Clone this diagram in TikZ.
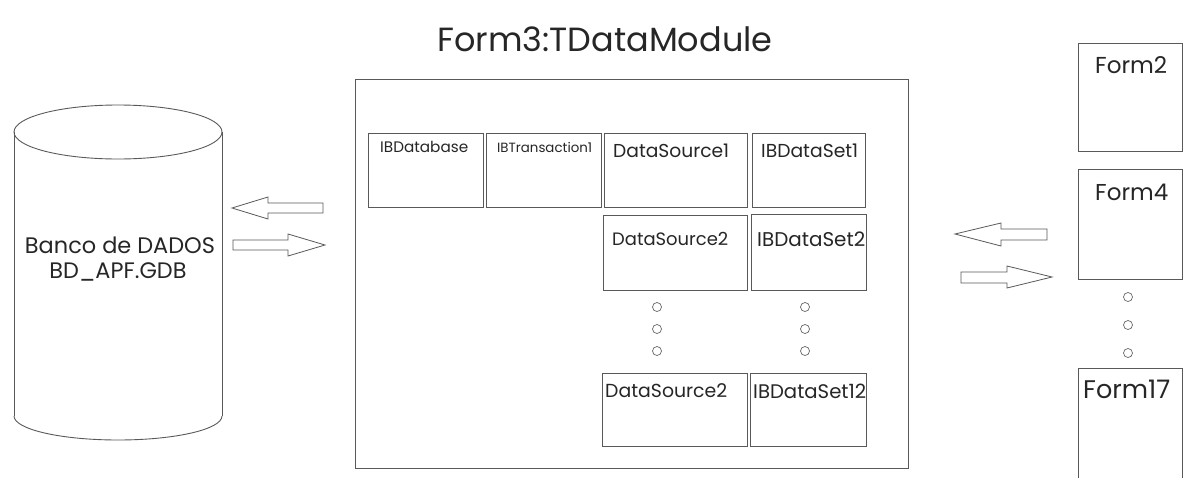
\documentclass[tikz,border=0pt]{standalone}
\usepackage{fontspec}
\setmainfont{Poppins}
\newcommand{\fitw}[2]{\resizebox{#1pt}{!}{#2}}
\begin{document}
\begin{tikzpicture}[x=1pt,y=-1pt,
  box/.style={draw=black!65, line width=1pt, inner sep=0pt, fill=white},
  lbl/.style={anchor=west, inner sep=0pt, text=black!85},
  dot/.style={draw=black!60, line width=0.7pt, circle, inner sep=0pt, minimum size=9pt},
  blk/.style={draw=black!65, line width=0.8pt, fill=white, line join=miter}]
\useasboundingbox (0,0) rectangle (1184,477);

% title
\node[inner sep=0pt, text=black!85] (title) at (605,39) {\fitw{335}{Form3:TDataModule}};

% cylinder (database)
\draw[black!65, line width=0.9pt] (14,132) -- (14,416);
\draw[black!65, line width=0.9pt] (222,132) -- (222,416);
\draw[black!65, line width=0.9pt] (118,132) ellipse [x radius=104, y radius=27];
\begin{scope}
  \clip (0,416) rectangle (240,470);
  \draw[black!65, line width=0.9pt] (118,416) ellipse [x radius=104, y radius=24];
\end{scope}
\node[inner sep=0pt, text=black!85] (db1) at (120,245) {\fitw{190}{Banco de DADOS}};
\node[inner sep=0pt, text=black!85] (db2) at (118,272) {\fitw{137}{BD\_APF.GDB}};

% left block arrows
\draw[blk] (232,208) -- (268,197) -- (268,203) -- (323,203) -- (323,213) -- (268,213) -- (268,219) -- cycle;
\draw[blk] (325,245) -- (288,234) -- (288,240) -- (233,240) -- (233,250) -- (288,250) -- (288,256) -- cycle;

% right block arrows
\draw[blk] (955,234) -- (1001,223) -- (1001,229) -- (1047,229) -- (1047,240) -- (1001,240) -- (1001,246) -- cycle;
\draw[blk] (1052,277) -- (1007,266) -- (1007,272) -- (961,272) -- (961,283) -- (1007,283) -- (1007,288) -- cycle;

% data module
\node[box, minimum width=553pt, minimum height=389pt] (mod) at (631.5,273.5) {};

\node[box, minimum width=115pt, minimum height=74pt] (db) at (425.5,170) {};
\node[box, minimum width=115pt, minimum height=74pt] (tr) at (543.5,170) {};
\node[box, minimum width=143pt, minimum height=74pt] (ds1) at (675.5,170) {};
\node[box, minimum width=113pt, minimum height=74pt] (set1) at (808.5,170) {};
\node[box, minimum width=144pt, minimum height=75pt] (ds2) at (675,252.5) {};
\node[box, minimum width=115pt, minimum height=76pt] (set2) at (808.5,252) {};
\node[box, minimum width=145pt, minimum height=73pt] (ds12) at (674.5,409.5) {};
\node[box, minimum width=116pt, minimum height=73pt] (set12) at (808,409.5) {};

\node[lbl] (ldb) at (380,147) {\fitw{88}{IBDatabase}};
\node[lbl] (ltr) at (497,147) {\fitw{95}{IBTransaction1}};
\node[lbl] (lds1) at (613,151) {\fitw{116}{DataSource1}};
\node[lbl] (lset1) at (761,151) {\fitw{97}{IBDataSet1}};
\node[lbl] (lds2) at (612,239) {\fitw{116}{DataSource2}};
\node[lbl] (lset2) at (757,239) {\fitw{108}{IBDataSet2}};
\node[lbl] (lds12) at (605,391) {\fitw{122}{DataSource2}};
\node[lbl] (lset12) at (753,391) {\fitw{113}{IBDataSet12}};

\node[dot] (d1) at (657,307) {};
\node[dot] (d2) at (657,329) {};
\node[dot] (d3) at (657,351) {};
\node[dot] (e1) at (805,307) {};
\node[dot] (e2) at (805,329) {};
\node[dot] (e3) at (805,351) {};

% forms
\node[box, minimum width=104pt, minimum height=108pt] (f2) at (1130,97) {};
\node[box, minimum width=104pt, minimum height=110pt] (f4) at (1130,224) {};
\node[box, minimum width=104pt, minimum height=122pt] (f17) at (1130,429) {};
\node[lbl] (lf2) at (1095,65) {\fitw{72}{Form2}};
\node[lbl] (lf4) at (1095,192) {\fitw{73}{Form4}};
\node[lbl] (lf17) at (1083,389) {\fitw{87}{Form17}};
\node[dot] (g1) at (1128,297) {};
\node[dot] (g2) at (1128,325) {};
\node[dot] (g3) at (1128,353) {};
\end{tikzpicture}
\end{document}
